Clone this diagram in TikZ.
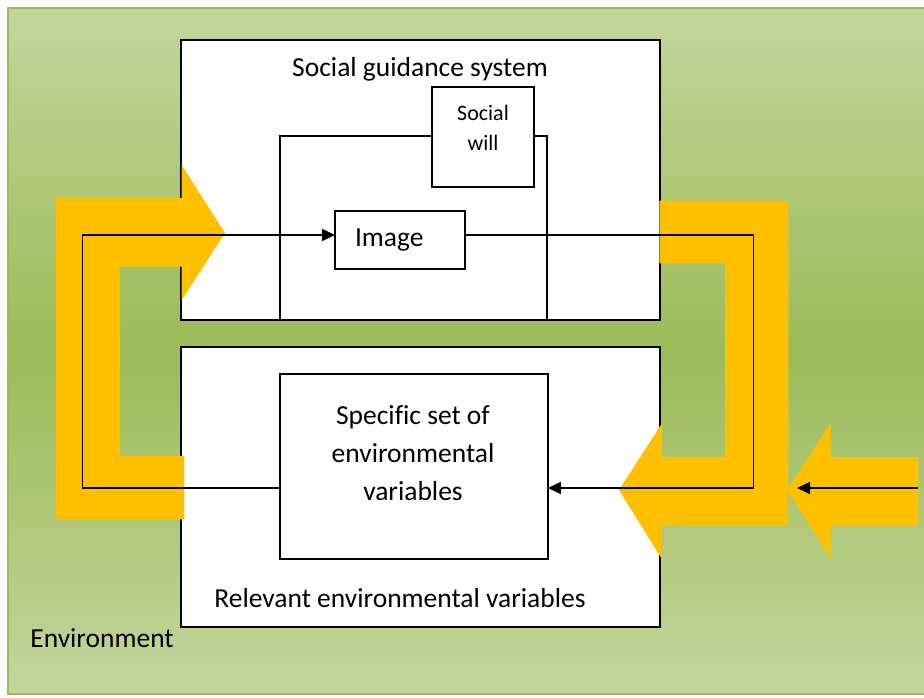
\documentclass[tikz,border=0pt]{standalone}
\usepackage{fontspec}
\setmainfont{Carlito}[Ligatures=NoCommon]
\usetikzlibrary{positioning,arrows.meta}
\definecolor{envgreen}{HTML}{9BBB59}
\definecolor{envlight}{HTML}{C3D69B}
\definecolor{flowyellow}{HTML}{FFC000}

\begin{document}
\begin{tikzpicture}[x=1pt, y=-1pt,
  box/.style={draw=black, line width=1.5pt, fill=white, outer sep=0pt, inner sep=0pt},
  conn/.style={draw=black, line width=1.6pt},
  tip/.style={-{Triangle[length=13pt, width=12pt]}},
  lbl/.style={font=\fontsize{27.5}{38}\selectfont, inner sep=0pt},
  small/.style={font=\fontsize{22}{30}\selectfont, inner sep=0pt}]
\useasboundingbox (0,0) rectangle (924,697);
% environment
\shade[top color=envlight, bottom color=envgreen] (8,8) rectangle (940,351.5);
\shade[top color=envgreen, bottom color=envlight] (8,351) rectangle (940,694);
\draw[envgreen, line width=2pt] (940,8) -- (8,8) -- (8,694) -- (940,694);

% the two systems
\node[box, minimum width=479pt, minimum height=280pt] (sgs) at (420.5,180) {};
\node[box, minimum width=479pt, minimum height=280pt] (rev) at (420.5,487) {};
\node[box, minimum width=267pt, minimum height=184pt] (frame) at (413.5,228) {};
\node[box, minimum width=102pt, minimum height=100pt] (will) at (483,137) {};
\node[box, minimum width=130pt, minimum height=58pt, text width=90pt, inner xsep=20pt, align=left, lbl] (image) at (400,240) {Image};
\node[box, minimum width=268pt, minimum height=185pt] (spec) at (414,466.5) {};

% yellow flows
\fill[flowyellow] (56,198) -- (181.7,198) -- (181.7,165) -- (225,233) -- (181.7,300) -- (181.7,266.7)
  -- (120,266.7) -- (120,456) -- (184.3,456) -- (184.3,519.3) -- (56,519.3) -- cycle;
\fill[flowyellow] (659.3,200.7) -- (788.3,200.7) -- (788.3,525.7) -- (662,525.7) -- (662,559.3)
  -- (619,490) -- (662,423.3) -- (662,456.7) -- (725,456.7) -- (725,263.3) -- (659.3,263.3) -- cycle;
\fill[flowyellow] (918.3,457) -- (830.7,457) -- (830.7,423) -- (787.3,490) -- (830.7,559)
  -- (830.7,526) -- (918.3,526) -- cycle;

% connectors
\coordinate (lowL) at (82.3,488);
\coordinate (lowR) at (753.3,488);
\coordinate (srcR) at (918,488);
\coordinate (dstR) at (797,488);
\draw[conn, tip] (spec.west |- lowL) -- (lowL) |- ([yshift=5pt]image.west);
\draw[conn, tip] ([yshift=5pt]image.east) -| (lowR) -- (spec.east |- lowR);
\draw[conn, tip] (srcR) -- (dstR);

% texts
\node[lbl] (sgstext) at (420,69) {Social guidance system};
\node[small, align=center] (willtext) at (483,128) {Social\\will};
\node[lbl, align=center] (spectext) at (413,453) {Specific set of\\environmental\\variables};
\node[lbl] (revtext) at (400,598) {Relevant environmental variables};
\node[lbl] (envtext) at (102,638) {Environment};
\end{tikzpicture}
\end{document}
